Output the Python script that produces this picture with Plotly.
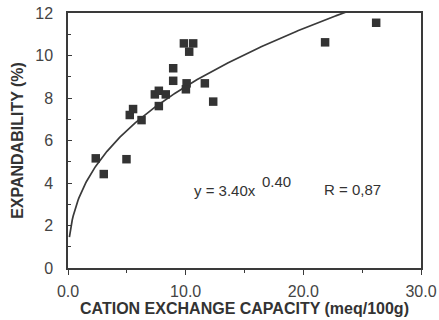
import numpy as np
import plotly.graph_objects as go

# Data
cec = [2.36, 3.04, 4.97, 5.25, 5.53, 6.25, 7.38, 7.72, 8.31, 7.72, 8.94, 8.94,
       10.08, 10.02, 9.85, 10.64, 10.30, 11.63, 12.34, 21.85, 26.19]
expandability = [5.16, 4.42, 5.12, 7.20, 7.48, 6.96, 8.17, 8.34, 8.17, 7.62, 9.40, 8.81,
                 8.69, 8.41, 10.57, 10.57, 10.18, 8.69, 7.83, 10.62, 11.54]

# Fitted power law shown on the chart: y = 3.40 x^0.40
fit_a = 3.40
fit_b = 0.40
fit_x = np.linspace(0.12, 24.0, 300)
fit_y = fit_a * fit_x ** fit_b

x_ticks = [0, 10, 20, 30]
x_ticklabels = ["0.0", "10.0", "20.0", "30.0"]
y_ticks = [0, 2, 4, 6, 8, 10, 12]

ink = "#3a3a3a"
font = "Liberation Sans, Arial, sans-serif"

fig = go.Figure()
fig.add_trace(go.Scatter(x=fit_x, y=fit_y, mode="lines",
                         line=dict(color=ink, width=1.7), hoverinfo="skip",
                         showlegend=False, cliponaxis=True))
fig.add_trace(go.Scatter(x=cec, y=expandability, mode="markers",
                         marker=dict(symbol="square", size=8.5, color="#333333"),
                         showlegend=False))

fig.add_annotation(x=0.3513, y=0.263, xref="paper", yref="paper", xanchor="left",
                   text="y = 3.40x", showarrow=False,
                   font=dict(family=font, size=15, color="#333333"))
fig.add_annotation(x=0.544, y=0.300, xref="paper", yref="paper", xanchor="left",
                   text="0.40", showarrow=False,
                   font=dict(family=font, size=15, color="#333333"))
fig.add_annotation(x=0.72, y=0.267, xref="paper", yref="paper", xanchor="left",
                   text="R = 0,87", showarrow=False,
                   font=dict(family=font, size=15, color="#333333"))

fig.update_layout(
    width=439, height=320,
    margin=dict(l=68, r=18, t=13, b=52),
    paper_bgcolor="white", plot_bgcolor="white",
    font=dict(family=font, color="#333333"),
)
fig.update_xaxes(
    range=[0, 30], tickvals=x_ticks, ticktext=x_ticklabels, automargin=False,
    showgrid=False, zeroline=False, showline=True, linecolor=ink, linewidth=1.5,
    mirror=True, ticks="outside", ticklen=5, tickcolor=ink, tickwidth=1.2,
    minor=dict(tickvals=[5, 15, 25], ticks="outside", ticklen=3, tickcolor=ink),
    ticklabelstandoff=3,
    tickfont=dict(size=16, family=font, color="#444444"),
    title=dict(text="<b>CATION EXCHANGE CAPACITY (meq/100g)</b>",
               font=dict(size=16, family=font, color="#333333"), standoff=2),
)
fig.update_yaxes(
    range=[0, 12], tickvals=y_ticks, automargin=False,
    showgrid=False, zeroline=False, showline=True, linecolor=ink, linewidth=1.5,
    mirror=True, ticks="inside", ticklen=4, tickcolor=ink, tickwidth=1.2,
    minor=dict(tickvals=[1, 3, 5, 7, 9, 11], ticks="inside", ticklen=3, tickcolor=ink),
    ticklabelstandoff=10,
    tickfont=dict(size=16, family=font, color="#444444"),
    title=dict(text="<b>EXPANDABILITY (%)</b>",
               font=dict(size=16, family=font, color="#333333"), standoff=8),
)

fig.write_html("out.html")
